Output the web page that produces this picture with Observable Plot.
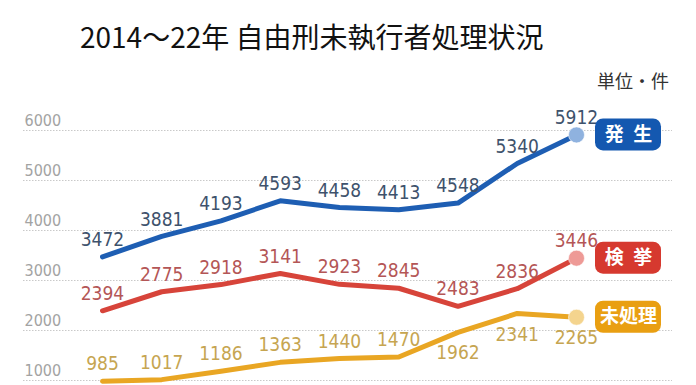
<!DOCTYPE html>
<html>
<head>
<meta charset="utf-8">
<script src="https://cdn.jsdelivr.net/npm/d3@7"></script>
<script src="https://cdn.jsdelivr.net/npm/@observablehq/plot@0.6"></script>
<style>
  html, body { margin: 0; padding: 0; background: #fff; }
  #wrap { position: relative; width: 696px; height: 385px; overflow: hidden; }
  #head { position: relative; width: 696px; height: 100px; }
  #title { position: absolute; left: 80px; top: 16px; font-family: "Noto Sans CJK JP", sans-serif; font-size: 28px; line-height: 40px; color: #111; white-space: nowrap; }
  #unit { position: absolute; left: 597px; top: 68px; font-family: "Noto Sans CJK JP", sans-serif; font-size: 18px; line-height: 24px; color: #333; white-space: nowrap; }
  #chart svg { display: block; }
</style>
</head>
<body>
<div id="wrap">
  <div id="head">
    <div id="title">2014～22年 自由刑未執行者処理状況</div>
    <div id="unit">単位・件</div>
  </div>
  <div id="chart"></div>
</div>
<script>
// ---- data ----
const years = [2014, 2015, 2016, 2017, 2018, 2019, 2020, 2021, 2022];
const occurred = [3472, 3881, 4193, 4593, 4458, 4413, 4548, 5340, 5912];
const cleared  = [2394, 2775, 2918, 3141, 2923, 2845, 2483, 2836, 3446];
const pending  = [985, 1017, 1186, 1363, 1440, 1470, 1962, 2341, 2265];
const seriesNames = ["発\u2002生", "検\u2002挙", "未処理"];
const yTicks = [1000, 2000, 3000, 4000, 5000, 6000];
// years whose value label sits below the line, per series
const labelsBelow = [[], [], [2020, 2021, 2022]];

// ---- styles ----
const lineColors  = ["#1e5eb3", "#d7443a", "#e9a623"];
const labelColors = ["#3e526c", "#b45656", "#c6a551"];
const dotColors   = ["#8fb2df", "#ee9a96", "#f4d48e"];
const badgeColors = ["#1458b0", "#d6392f", "#e99f12"];
const numFont = '"Liberation Sans Narrow", "DejaVu Sans Condensed", "Roboto", sans-serif';

const valuesList = [occurred, cleared, pending];
const rows = [];
valuesList.forEach((vals, i) => {
  vals.forEach((v, j) => rows.push({series: seriesNames[i], idx: i, year: years[j], value: v}));
});

const marks = [
  Plot.ruleY(yTicks, {stroke: "#c9c9c9", strokeWidth: 1, strokeDasharray: "1.5,1.5", insetLeft: -79, insetRight: -96}),
  Plot.text(yTicks, {y: d => d, text: d => String(d), frameAnchor: "left", textAnchor: "start", dx: -78, dy: -10,
    fill: "#a3a3a3", fontSize: 16, fontFamily: numFont})
];

seriesNames.forEach((name, i) => {
  const data = rows.filter(r => r.idx === i);
  const last = data[data.length - 1];
  const above = data.filter(r => !labelsBelow[i].includes(r.year));
  const below = data.filter(r => labelsBelow[i].includes(r.year));
  marks.push(
    Plot.line(data, {x: "year", y: "value", stroke: lineColors[i], strokeWidth: 5, strokeLinecap: "round", strokeLinejoin: "round"}),
    Plot.dot([last], {x: "year", y: "value", r: 8, fill: dotColors[i], stroke: "#ffffff", strokeOpacity: 0.6, strokeWidth: 1}),
    Plot.text(above, {x: "year", y: "value", text: d => String(d.value), dy: -17, fill: labelColors[i], fontSize: 19, fontFamily: numFont}),
    Plot.text(below, {x: "year", y: "value", text: d => String(d.value), dy: 21, fill: labelColors[i], fontSize: 19, fontFamily: numFont}),
    Plot.rect([last], {x1: "year", x2: "year", y1: "value", y2: "value", insetLeft: 19, insetRight: -85, insetTop: -16, insetBottom: -16,
      rx: 8, fill: badgeColors[i]}),
    Plot.text([last], {x: "year", y: "value", text: d => d.series, dx: 52, fill: "#ffffff", fontSize: 19, fontWeight: "bold",
      fontFamily: '"Noto Sans CJK JP", sans-serif'})
  );
});

const chart = Plot.plot({
  width: 696,
  height: 285,
  marginTop: 30,
  marginBottom: 5,
  marginLeft: 102,
  marginRight: 120,
  x: {type: "linear", domain: [2014, 2022], axis: null},
  y: {domain: [1000, 6000], axis: null},
  style: {background: "transparent", overflow: "visible"},
  marks
});
document.getElementById("chart").appendChild(chart);
</script>
</body>
</html>
